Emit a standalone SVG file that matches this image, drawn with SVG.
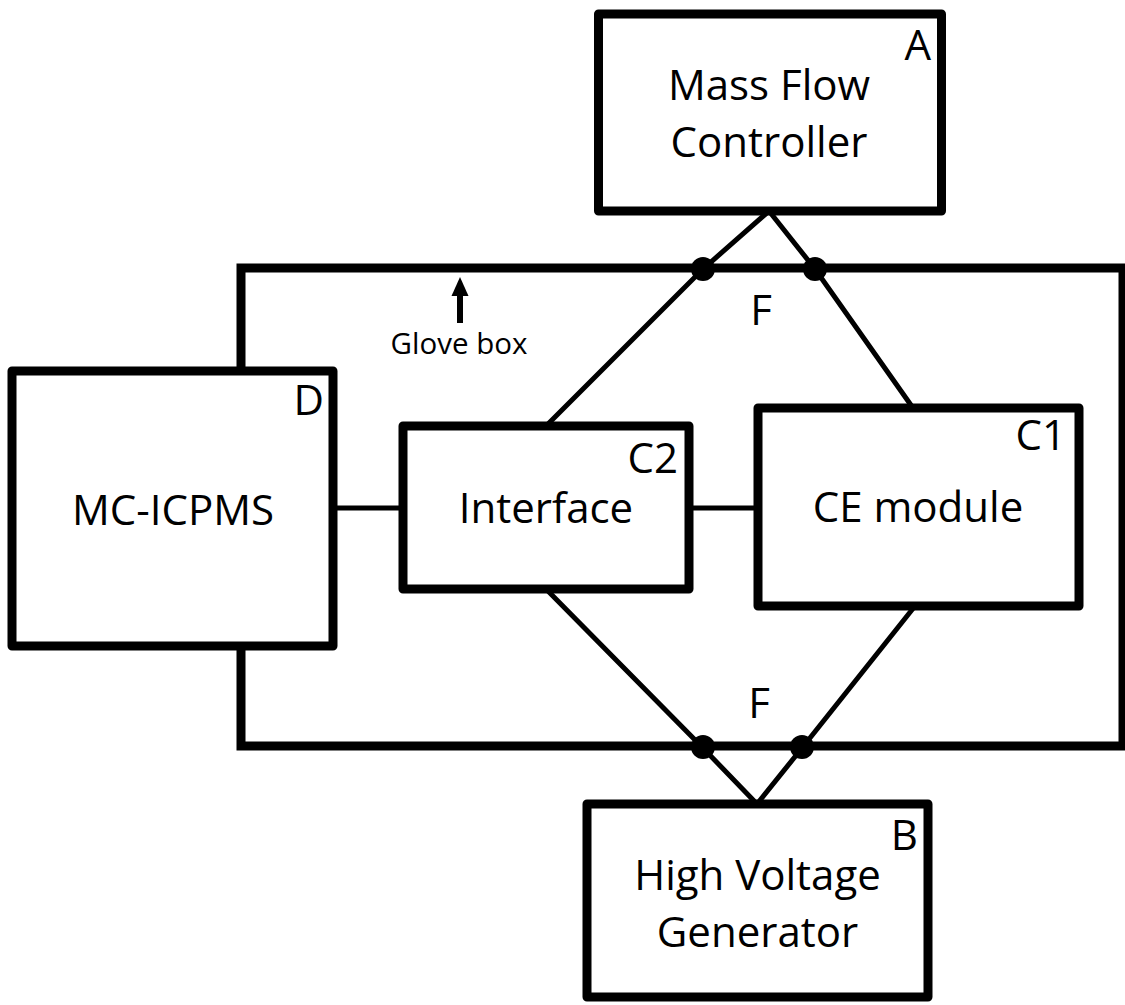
<svg xmlns="http://www.w3.org/2000/svg" width="1125" height="1005" viewBox="0 0 1125 1005">
<style>
.box{fill:#fff;stroke:#000;stroke-width:9;stroke-linejoin:round}
.gb{fill:none;stroke:#000;stroke-width:9;stroke-linejoin:miter}
.ln{stroke:#000;stroke-width:5;fill:none}
.dot{fill:#000}
text{font-family:"Open Sans","Liberation Sans",sans-serif;fill:#000}
.lbl{font-size:42px;text-anchor:middle}
.tag{font-size:42px;text-anchor:end}
.sm{font-size:29.5px;text-anchor:middle}
</style>
<rect width="1125" height="1005" fill="#fff"/>
<g id="glovebox">
<rect class="gb" x="241" y="268" width="882" height="478"/>
<line x1="460" y1="323" x2="460" y2="292" stroke="#000" stroke-width="6"/>
<polygon points="460,277 451.5,296 468.5,296" fill="#000"/>
<text class="sm" x="459" y="354">Glove box</text>
</g>
<g id="connectors">
<line class="ln" x1="333" y1="508" x2="403" y2="508"/>
<line class="ln" x1="689" y1="508" x2="758" y2="508"/>
<polyline class="ln" points="769,211 703,269 546,426"/>
<polyline class="ln" points="769,211 815,269 913,408"/>
<polyline class="ln" points="546,589 703,748 757,804"/>
<polyline class="ln" points="915,606 802,748 757,804"/>
<circle class="dot" cx="703" cy="269" r="12"/>
<circle class="dot" cx="815" cy="269" r="12"/>
<circle class="dot" cx="703" cy="747" r="12"/>
<circle class="dot" cx="802" cy="747" r="12"/>
<text class="lbl" x="761" y="325">F</text>
<text class="lbl" x="759" y="718">F</text>
</g>
<g id="nodeA">
<rect class="box" x="598.5" y="14" width="343" height="197"/>
<text class="lbl" x="769" y="100">Mass Flow</text>
<text class="lbl" x="769" y="157">Controller</text>
<text class="tag" x="931" y="60">A</text>
</g>
<g id="nodeB">
<rect class="box" x="587" y="804" width="341" height="193"/>
<text class="lbl" x="757.5" y="890">High Voltage</text>
<text class="lbl" x="757.5" y="947">Generator</text>
<text class="tag" x="918" y="850">B</text>
</g>
<g id="nodeD">
<rect class="box" x="12" y="371" width="321" height="275"/>
<text class="lbl" x="173" y="525">MC-ICPMS</text>
<text class="tag" x="324" y="415">D</text>
</g>
<g id="nodeC2">
<rect class="box" x="403" y="426" width="286" height="163"/>
<text class="lbl" x="546" y="523">Interface</text>
<text class="tag" x="678" y="473">C2</text>
</g>
<g id="nodeC1">
<rect class="box" x="758" y="408" width="321" height="198"/>
<text class="lbl" x="918" y="522">CE module</text>
<text class="tag" x="1066" y="450">C1</text>
</g>
</svg>
